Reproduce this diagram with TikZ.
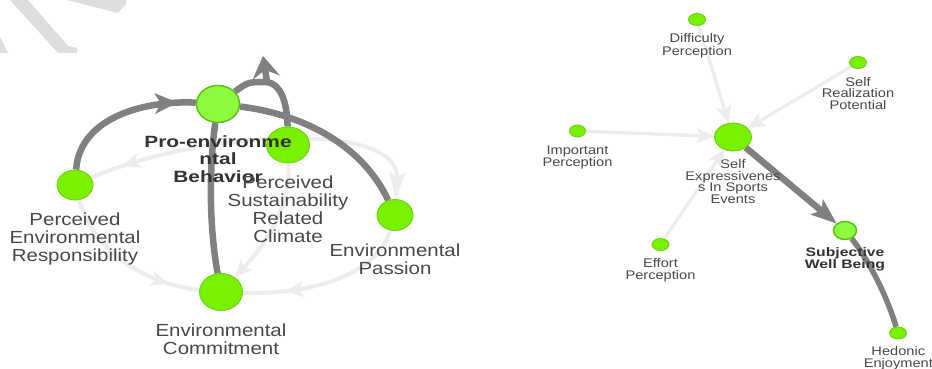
\documentclass[tikz,border=0pt]{standalone}
\usepackage{fontspec}
\usepackage{xcolor}
\usetikzlibrary{arrows.meta,decorations.markings,shapes.geometric,backgrounds}
\newfontfamily\labelfont[FakeStretch=1.17]{Liberation Sans}
\newfontfamily\headfont[FakeStretch=1.28]{Liberation Sans}
\definecolor{leafgreen}{RGB}{120,240,0}
\definecolor{leafrim}{RGB}{104,206,0}
\definecolor{paleleaf}{RGB}{140,252,60}
\definecolor{hlrim}{RGB}{92,192,20}
\definecolor{edgegray}{RGB}{128,128,128}
\definecolor{softgray}{RGB}{236,236,236}
\definecolor{labelgray}{RGB}{72,72,72}
\definecolor{headgray}{RGB}{50,50,50}
\definecolor{markgray}{RGB}{222,222,222}
\tikzset{
  softtip/.tip={Stealth[length=18pt,width=16pt,inset=5pt,line width=0pt]},
  longtip/.tip={Stealth[length=28pt,width=17pt,inset=7pt,line width=0pt]},
  hardtip/.tip={Stealth[length=23pt,width=21pt,inset=6pt,line width=0pt]},
  looptip/.tip={Stealth[length=22pt,width=28pt,inset=8pt,line width=0pt]},
}

\begin{document}
\begin{tikzpicture}[x=1pt, y=-1pt,
  vertex/.style 2 args={ellipse, fill=leafgreen, draw=leafrim, line width=0.8pt, inner sep=0pt, minimum width=#1pt, minimum height=#2pt},
  hlvertex/.style 2 args={vertex={#1}{#2}, fill=paleleaf, draw=hlrim, line width=1.5pt},
  biglabel/.style={font=\labelfont\fontsize{17.5}{18}\selectfont, text=labelgray, align=center, anchor=north, inner sep=0pt},
  smalllabel/.style={font=\labelfont\fontsize{12.5}{11.6}\selectfont, text=labelgray, align=center, anchor=north, inner sep=0pt},
  bighead/.style={font=\headfont\bfseries\fontsize{16.3}{17.8}\selectfont, text=headgray, align=center, anchor=north, inner sep=0pt},
  smallhead/.style={font=\headfont\bfseries\fontsize{12.3}{11}\selectfont, text=headgray, align=center, anchor=north, inner sep=0pt},
  weak/.style={draw=softgray, line width=4pt},
  weakthin/.style={draw=softgray, line width=3.3pt},
  strong/.style={draw=edgegray, line width=6.5pt},
  strongthin/.style={draw=edgegray, line width=5.5pt},
  softat/.style={postaction={decorate}, decoration={markings, mark=at position #1 with {\arrow{softtip}}}},
  softback/.style={postaction={decorate}, decoration={markings, mark=at position #1 with {\arrowreversed{softtip}}}},
  hardat/.style={postaction={decorate}, decoration={markings, mark=at position #1 with {\arrow{hardtip}}}}]
  \useasboundingbox (0,0) rectangle (932,369);

  \node[hlvertex={43}{37}] (peb) at (218,104) {};
  \node[vertex={43}{36}] (psrc) at (288,145) {};
  \node[vertex={36}{30}] (per) at (75,185) {};
  \node[vertex={36}{31}] (ep) at (395,215) {};
  \node[vertex={43}{37}] (ec) at (221,292) {};
  \node[vertex={17}{12}] (dp) at (697,19.5) {};
  \node[vertex={17}{12}] (srp) at (858,62.5) {};
  \node[vertex={16}{12}] (ip) at (577.5,131) {};
  \node[vertex={37}{28}] (se) at (733,137) {};
  \node[vertex={17}{12}] (effp) at (660.5,244.5) {};
  \node[hlvertex={23}{18}] (swb) at (845,230.5) {};
  \node[vertex={17}{12}] (he) at (898,333) {};

  \node[bighead] (peb-l) at (218,135) {Pro-environme\\ntal\\Behavior};
  \node[biglabel] (psrc-l) at (288,176) {Perceived\\Sustainability\\Related\\Climate};
  \node[biglabel] (per-l) at (75,213) {Perceived\\Environmental\\Responsibility};
  \node[biglabel] (ep-l) at (395,243.5) {Environmental\\Passion};
  \node[biglabel] (ec-l) at (221,323.5) {Environmental\\Commitment};
  \node[smalllabel] (dp-l) at (697,33.7) {Difficulty\\Perception};
  \node[smalllabel] (srp-l) at (858,77) {Self\\Realization\\Potential};
  \node[smalllabel] (ip-l) at (577.5,145.4) {Important\\Perception};
  \node[smalllabel] (se-l) at (733,159.4) {Self\\Expressivenes\\s In Sports\\Events};
  \node[smalllabel] (effp-l) at (660.5,258.7) {Effort\\Perception};
  \node[smallhead] (swb-l) at (845,247) {Subjective\\Well Being};
  \node[smalllabel] (he-l) at (898.3,346.4) {Hedonic\\Enjoyment};

  \coordinate (knot) at (267,82);
  \coordinate (knot-tip) at (263,56);

  \begin{scope}[on background layer]
    \fill[white] (0,0) rectangle (932,369);
    \fill[markgray] (67,0) -- (126,0) -- (126,4) -- (118,13) -- cycle;
    \fill[markgray] (10,0) -- (28,0) -- (68,46) -- (77,48) -- (77,53) -- (58,53) -- cycle;
    \fill[markgray] (0,37) -- (8,53) -- (0,53) -- cycle;

    \draw[weak, -{longtip}, softback=0.1] (per) .. controls (200,130) and (400,120) .. (ep);
    \draw[weak, softat=0.8] (per) .. controls (95,255) and (150,285) .. (ec);
    \draw[weak, softat=0.75] (ep) .. controls (375,280) and (300,295) .. (ec);
    \draw[weak, -{softtip}] (psrc) .. controls (290,210) and (265,245) .. (ec);

    \draw[strong, hardat=0.88] (per) .. controls (80,115) and (150,100) .. (peb);
    \draw[strong] (ec) .. controls (208,220) and (210,160) .. (peb);
    \draw[strong] (ep) .. controls (360,140) and (295,113) .. (peb);
    \draw[strong] (psrc) .. controls (287,100) and (280,84) .. (knot);
    \draw[strong] (peb) .. controls (248,82) .. (knot);
    \draw[strong, -{looptip}] (knot) -- (knot-tip);

    \draw[weakthin, -{softtip}] (dp) -- (se);
    \draw[weakthin, -{softtip}] (srp) -- (se);
    \draw[weakthin, -{softtip}] (ip) -- (se);
    \draw[weakthin, -{softtip}] (effp) -- (se);

    \draw[strong, -{Stealth[length=26pt,width=20pt,inset=6pt,line width=0pt]}] (se) -- (swb);
    \draw[strongthin] (he) .. controls (885,290) and (865,255) .. (swb);
  \end{scope}
\end{tikzpicture}
\end{document}
